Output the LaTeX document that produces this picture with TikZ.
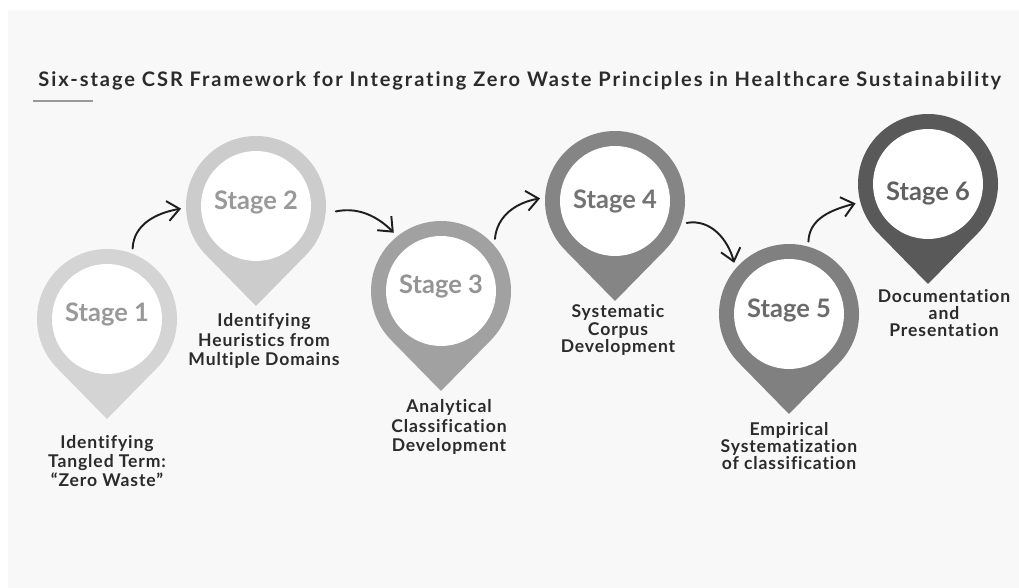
\documentclass[tikz,border=0pt]{standalone}
\usepackage{fontspec}
\setmainfont{Lato}
\newfontfamily\titlefont[LetterSpace=9.7,Ligatures=NoCommon]{Lato}
\newfontfamily\stepfont[LetterSpace=5,Ligatures=NoCommon]{Lato}
\usetikzlibrary{arrows.meta}
\definecolor{paper}{HTML}{F8F8F8}
\definecolor{inkdark}{HTML}{2B2B2B}
\tikzset{
  stagedot/.style={circle, fill=white, minimum size=2.2cm, inner sep=0pt, outer sep=0.4cm,
    font=\fontsize{14.5pt}{16pt}\selectfont\bfseries, text height=10pt, text depth=#1},
  stagedot/.default=7pt,
  looselabel/.style={align=center, text=inkdark, font=\fontsize{10pt}{11pt}\stepfont\bfseries},
  tightlabel/.style={align=center, text=inkdark, font=\fontsize{10pt}{9.9pt}\stepfont\bfseries},
  hop/.style={line width=1.1pt, draw=black!88, line cap=round, -{Straight Barb[length=2.4mm,width=4mm]}}
}
\begin{document}
\begin{tikzpicture}[x=0.02cm,y=0.02cm]
  \useasboundingbox (0,0) rectangle (1019,588);
  \fill[paper] (8,0) rectangle (1019,578);
  %--- Title
  \node[anchor=west, inner sep=0pt, text=inkdark, font=\fontsize{11.4pt}{13pt}\titlefont\bfseries] (title) at (38,507)
    {Six-stage CSR Framework for Integrating Zero Waste Principles in Healthcare Sustainability};
  \coordinate (ruleL) at (33,487);
  \coordinate (ruleR) at (93,487);
  \draw[line width=1.1pt, color=black!40] (ruleL) -- (ruleR);
  %--- Pins
  \pgfmathsetmacro{\startAngle}{acos(70/100)-90}
  \pgfmathsetmacro{\deltaAngle}{360-2*acos(70/100)}
  \coordinate (c1) at (107,269);
  \fill[black!17] (c1) ++(0,-100) -- ++(50,51) arc[start angle=\startAngle,delta angle=\deltaAngle,radius=70] -- cycle;
  \node[stagedot, text=black!40] (s1) at (c1) {Stage 1};
  \coordinate (c2) at (256,382);
  \fill[black!20] (c2) ++(0,-100) -- ++(50,51) arc[start angle=\startAngle,delta angle=\deltaAngle,radius=70] -- cycle;
  \node[stagedot=5.7pt, text=black!40] (s2) at (c2) {Stage 2};
  \coordinate (c3) at (441,297);
  \fill[black!37] (c3) ++(0,-100) -- ++(50,51) arc[start angle=\startAngle,delta angle=\deltaAngle,radius=70] -- cycle;
  \node[stagedot, text=black!42] (s3) at (c3) {Stage 3};
  \coordinate (c4) at (615,387);
  \fill[black!48] (c4) ++(0,-100) -- ++(50,51) arc[start angle=\startAngle,delta angle=\deltaAngle,radius=70] -- cycle;
  \node[stagedot=1.2pt, text=black!55] (s4) at (c4) {Stage 4};
  \coordinate (c5) at (789,274);
  \fill[black!50] (c5) ++(0,-100) -- ++(50,51) arc[start angle=\startAngle,delta angle=\deltaAngle,radius=70] -- cycle;
  \node[stagedot=5.7pt, text=black!58] (s5) at (c5) {Stage 5};
  \coordinate (c6) at (928,404);
  \fill[black!65] (c6) ++(0,-100) -- ++(50,51) arc[start angle=\startAngle,delta angle=\deltaAngle,radius=70] -- cycle;
  \node[stagedot=0pt, text height=19pt, text=black!62] (s6) at (c6) {Stage 6};
  %--- Arrows
  \draw[hop] (s1.70) to[out=88,in=190] (s2.182);
  \draw[hop, shorten <=3pt] (s2.-5) to[out=12,in=135] (s3.129);
  \draw[hop] (s3.44) to[out=85,in=190] (s4.178);
  \draw[hop] (s4.-17) to[out=10,in=105] (s5.137);
  \draw[hop] (s5.75) to[out=88,in=195] (s6.195);
  %--- Labels
  \node[looselabel] (l1) at (107,127) {Identifying\\Tangled Term:\\“Zero Waste”};
  \node[looselabel] (l2) at (264,247) {Identifying\\Heuristics from\\Multiple Domains};
  \node[looselabel] (l3) at (449,161) {Analytical\\Classification\\Development};
  \node[tightlabel] (l4) at (618,258) {Systematic\\Corpus\\Development};
  \node[tightlabel] (l5) at (789,142) {Empirical\\Systematization\\of classification};
  \node[tightlabel] (l6) at (944,275) {Documentation\\and\\Presentation};
\end{tikzpicture}
\end{document}
